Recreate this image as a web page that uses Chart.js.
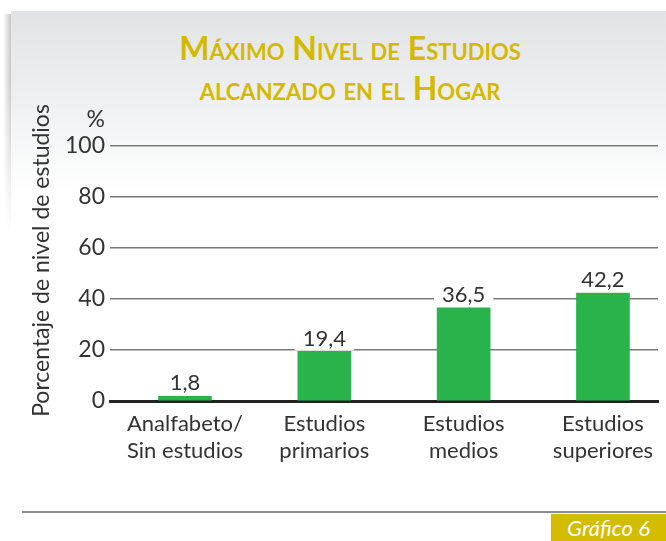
<!DOCTYPE html>
<html>
<head>
<meta charset="utf-8">
<script src="https://cdn.jsdelivr.net/npm/chart.js@4"></script>
<style>
  body { margin: 0; background: #fff; }
  #wrap { position: relative; width: 666px; height: 541px; overflow: hidden; background: #fff; }
  #panel {
    position: absolute; left: 11px; top: 11px; right: 0; height: 260px;
    background: linear-gradient(to bottom, #e2e3e5 0%, #eef0f1 35%, #ffffff 70%);
  }
  #shadow {
    position: absolute; left: 3px; top: 14px; width: 8px; height: 220px;
    background: linear-gradient(to right, rgba(255,255,255,0), rgba(0,0,0,0.22));
    -webkit-mask-image: linear-gradient(to bottom, #000 30%, transparent);
  }
  #titulo {
    position: absolute; left: 0; width: 700px; top: 28px; text-align: center;
    font-family: Lato, sans-serif; font-weight: bold; font-variant: small-caps;
    font-size: 32px; line-height: 40px; color: #d3ba00;
  }
  canvas { position: absolute; left: 0; top: 0; }
  #linea { position: absolute; left: 22px; right: 0; top: 511px; height: 2px; background: #8d8d8d; }
  #badge {
    position: absolute; left: 551px; right: 0; top: 514px; bottom: 0; background: #d4bc00;
    color: #fff; font-family: Lato, sans-serif; font-style: italic; font-size: 22px;
    text-align: center; line-height: 28px;
  }
</style>
</head>
<body>
<div id="wrap">
  <div id="panel"></div>
  <div id="shadow"></div>
  <div id="titulo">Máximo Nivel de Estudios<br>alcanzado en el Hogar</div>
  <canvas id="grafico" width="666" height="541"></canvas>
  <div id="linea"></div>
  <div id="badge">Gráfico 6</div>
</div>
<script>
const categorias = [
  ["Analfabeto/", "Sin estudios"],
  ["Estudios", "primarios"],
  ["Estudios", "medios"],
  ["Estudios", "superiores"],
];
const porcentajes = [1.8, 19.4, 36.5, 42.2];
const yTicks = [0, 20, 40, 60, 80, 100, 110];
const yEtiquetas = ["0", "20", "40", "60", "80", "100", "%"];

const texto = "#333333";
const fuente = "Lato, sans-serif";

// etiquetas de valor con fondo blanco que corta la grilla
const pluginValores = {
  id: "valores",
  afterDatasetsDraw: (chart) => {
    const ctx = chart.ctx;
    const meta = chart.getDatasetMeta(0);
    ctx.save();
    ctx.font = "22px " + fuente;
    ctx.textAlign = "center";
    ctx.textBaseline = "middle";
    meta.data.forEach((bar, i) => {
      const label = porcentajes[i].toFixed(1).replace(".", ",");
      const w = ctx.measureText(label).width;
      ctx.fillStyle = "#ffffff";
      ctx.fillRect(bar.x - w / 2 - 8, bar.y - 28, w + 16, 27);
      ctx.fillStyle = texto;
      ctx.fillText(label, bar.x, bar.y - 13);
    });
    ctx.restore();
  },
};

const ctx = document.getElementById("grafico").getContext("2d");
new Chart(ctx, {
  type: "bar",
  data: {
    datasets: [
      {
        data: porcentajes.map((v, i) => ({ x: i, y: v })),
        backgroundColor: "#28b34b",
        barThickness: 53,
      },
    ],
  },
  options: {
    responsive: false,
    animation: false,
    layout: { padding: { left: 18, right: 8, top: 120, bottom: 40 } },
    plugins: {
      legend: { display: false },
      tooltip: { enabled: false },
    },
    scales: {
      x: {
        type: "linear",
        offset: false,
        min: -0.538,
        max: 3.395,
        z: 1,
        afterBuildTicks: (s) => {
          s.ticks = categorias.map((c, i) => ({ value: i }));
        },
        afterFit: (s) => {
          s.height = 100;
        },
        ticks: {
          autoSkip: false,
          maxRotation: 0,
          padding: 10,
          color: texto,
          font: { family: fuente, size: 22, lineHeight: 1.2 },
          callback: (v, i) => categorias[i],
        },
        grid: { display: false, drawTicks: false, offset: false },
        border: { display: true, color: "#222222", width: 3 },
      },
      y: {
        min: 0,
        max: 110,
        afterBuildTicks: (s) => {
          s.ticks = yTicks.map((v) => ({ value: v }));
        },
        afterFit: (s) => {
          s.width = 110 - 18;
        },
        ticks: {
          padding: 5,
          color: texto,
          font: { family: fuente, size: 23 },
          callback: (v, i) => yEtiquetas[i],
        },
        grid: {
          drawTicks: false,
          lineWidth: 1.5,
          color: (c) =>
            c.tick && (c.tick.value === 0 || c.tick.value === 110)
              ? "rgba(0,0,0,0)"
              : "#7a7a7a",
        },
        border: { display: false },
        title: {
          display: true,
          text: "Porcentaje de nivel de estudios",
          color: texto,
          font: { family: fuente, size: 23, lineHeight: 1.2 },
          padding: { top: 10, bottom: 0 },
        },
      },
    },
  },
  plugins: [pluginValores],
});
</script>
</body>
</html>
